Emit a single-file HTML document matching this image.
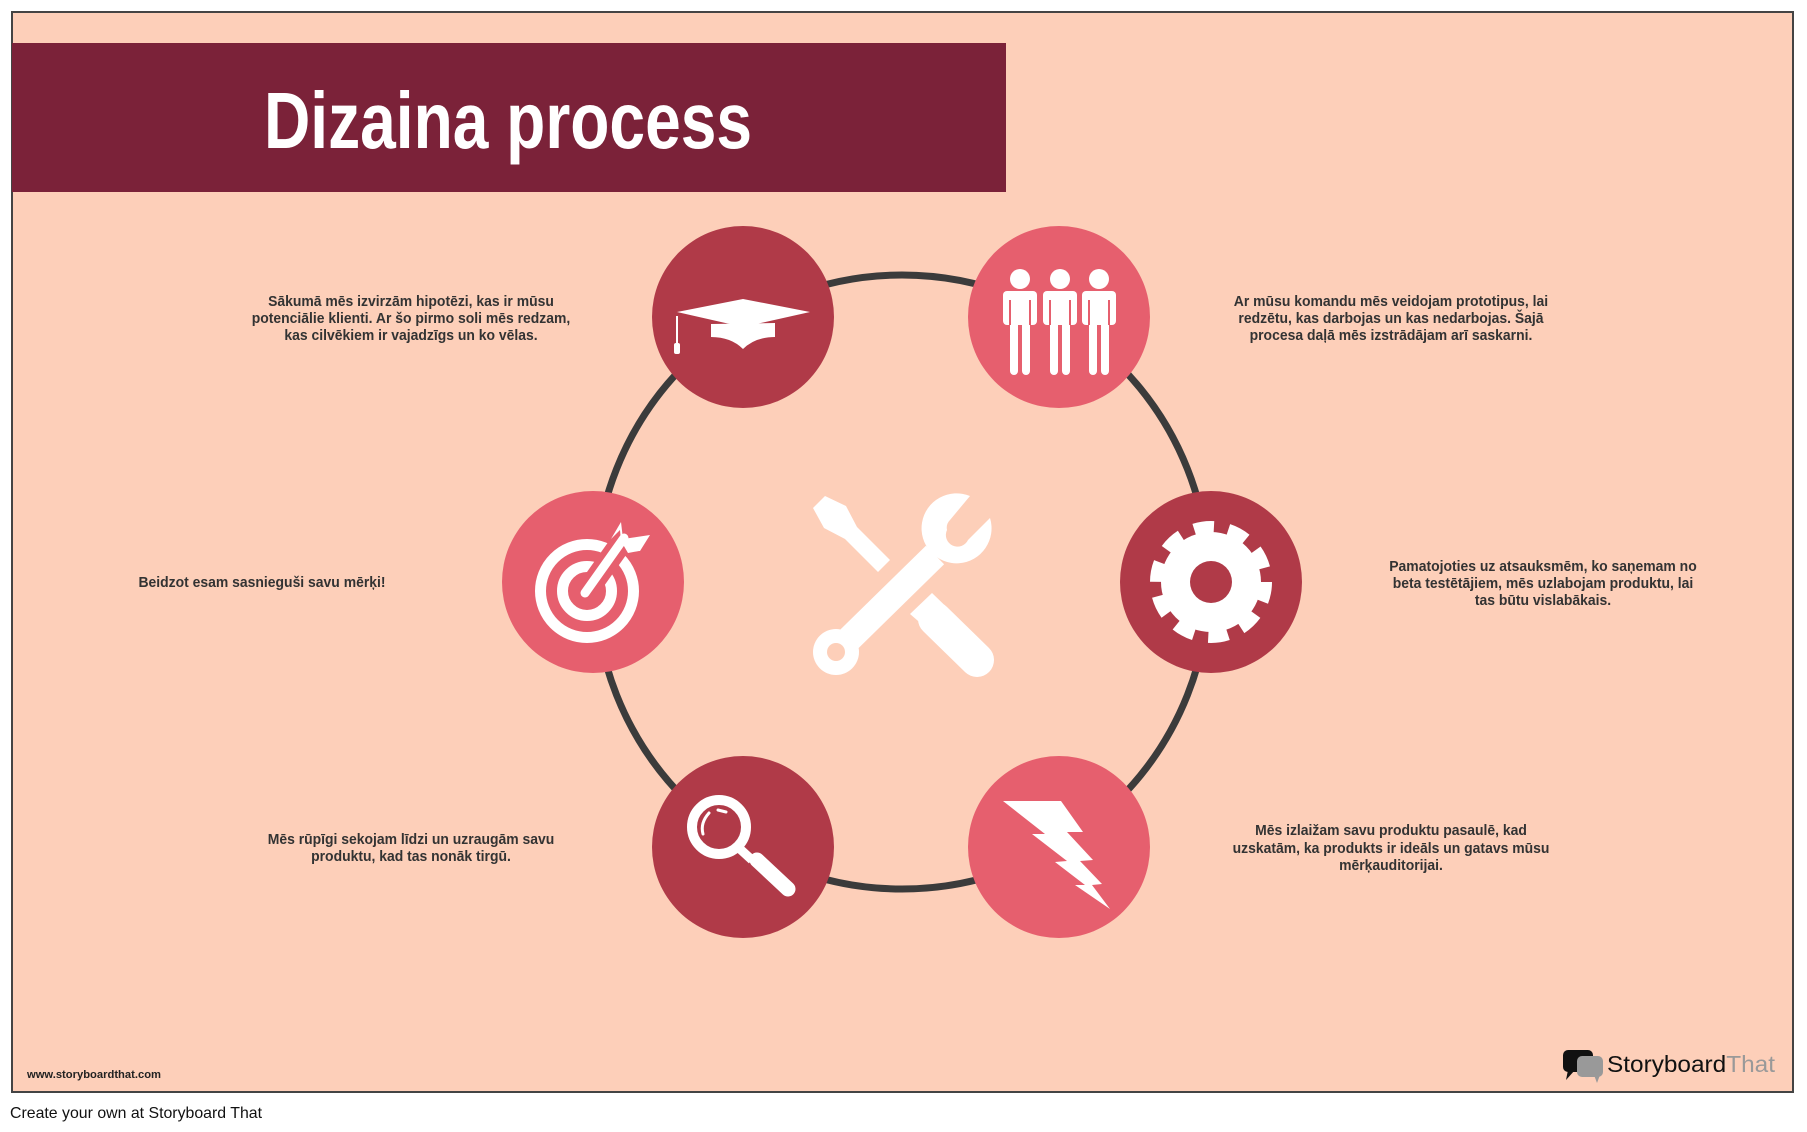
<!DOCTYPE html>
<html><head><meta charset="utf-8"><style>
html,body{margin:0;padding:0;background:#fff;}
svg{display:block;}
.t{font-family:"Liberation Sans Narrow","Liberation Sans",sans-serif;font-weight:bold;font-size:15px;fill:#333;text-anchor:middle;}
</style></head><body>
<svg width="1807" height="1132" viewBox="0 0 1807 1132" xmlns="http://www.w3.org/2000/svg">
<rect x="12" y="12" width="1781" height="1080" fill="#fdcfb9" stroke="#444" stroke-width="2"/>
<rect x="12" y="43" width="994" height="149" fill="#7b2239"/>
<text x="508" y="148" font-family="Liberation Sans Narrow, Liberation Sans, sans-serif" font-weight="bold" font-size="80" fill="#fff" text-anchor="middle" textLength="488" lengthAdjust="spacingAndGlyphs">Dizaina process</text>

<circle cx="902" cy="582" r="307" fill="none" stroke="#3b3b3b" stroke-width="7"/>

<circle cx="743" cy="317" r="91" fill="#b03a48"/>
<circle cx="1059" cy="317" r="91" fill="#e65f6e"/>
<circle cx="593" cy="582" r="91" fill="#e65f6e"/>
<circle cx="1211" cy="582" r="91" fill="#b03a48"/>
<circle cx="743" cy="847" r="91" fill="#b03a48"/>
<circle cx="1059" cy="847" r="91" fill="#e65f6e"/>

<!-- grad cap -->
<g fill="#fff">
<polygon points="743,299 810,312 743,327 677,312"/>
<path d="M711,324 L775,323 L775,337 Q755,337 743,349 Q731,337 711,337 Z"/>
<rect x="676" y="316" width="2" height="28"/>
<rect x="674" y="343" width="6" height="11" rx="2"/>
</g>
<!-- people -->
<g fill="#fff">
<g id="p"><circle cx="1020" cy="279" r="10"/><rect x="1003" y="291" width="34" height="34" rx="4"/><rect x="1010" y="300" width="8" height="75" rx="4"/><rect x="1022" y="300" width="8" height="75" rx="4"/></g>
<use href="#p" x="40"/><use href="#p" x="79"/>
</g>
<g stroke="#e65f6e" stroke-width="2"><line x1="1010" y1="300" x2="1010" y2="325"/><line x1="1030" y1="300" x2="1030" y2="325"/><line x1="1050" y1="300" x2="1050" y2="325"/><line x1="1070" y1="300" x2="1070" y2="325"/><line x1="1089" y1="300" x2="1089" y2="325"/><line x1="1109" y1="300" x2="1109" y2="325"/></g>

<!-- target -->
<g fill="none" stroke="#fff">
<circle cx="587" cy="591" r="46.5" stroke-width="11"/>
<circle cx="587" cy="591" r="24.5" stroke-width="11"/>
</g>
<line x1="587" y1="591" x2="626" y2="536" stroke="#e65f6e" stroke-width="22"/>
<line x1="585" y1="593" x2="624" y2="538" stroke="#fff" stroke-width="9" stroke-linecap="round"/>
<polygon points="620,530 621,541 628,553 639,551 640,551 650,535 623,539 621,522 611,539" fill="#fff"/>

<!-- gear -->
<circle cx="1211" cy="582" r="55" fill="none" stroke="#fff" stroke-width="12" stroke-dasharray="20 14.56"/>
<circle cx="1211" cy="582" r="50" fill="#fff"/>
<circle cx="1211" cy="582" r="21" fill="#b03a48"/>

<!-- magnifier -->
<circle cx="719" cy="827" r="27" fill="none" stroke="#fff" stroke-width="10"/>
<path d="M703,834 Q700,823 709,813" stroke="#fff" stroke-width="3" fill="none" stroke-linecap="round"/>
<path d="M718,810 L726,812" stroke="#fff" stroke-width="3" stroke-linecap="round"/>
<line x1="740" y1="849" x2="752" y2="860" stroke="#fff" stroke-width="9"/>
<line x1="757" y1="860" x2="788" y2="889" stroke="#fff" stroke-width="15" stroke-linecap="round"/>

<!-- lightning -->
<polygon fill="#fff" points="1003,801 1061,801 1083,832 1067,832 1093,860 1080,861 1102,884 1092,885 1110,909 1075,885 1085,885 1055,862 1067,861 1032,834 1045,834"/>

<!-- tools -->
<g fill="#fff">
<polygon points="813,508 825,496 846,506 857,527 890,560 878,572 845,539 824,528"/>
<line x1="935" y1="619" x2="977" y2="660" stroke="#fff" stroke-width="34" stroke-linecap="round"/>
<polygon points="910,614 932,593 960,620 940,640"/>
<line x1="836" y1="652" x2="935" y2="555" stroke="#fff" stroke-width="26"/>
<circle cx="836" cy="652" r="23"/>
<path d="M970,496 A35,35 0 1 0 990,518 L968,540 A11,11 0 0 1 947,530 A11,11 0 0 1 950,520 Z"/>
</g>
<circle cx="836" cy="652" r="9" fill="#fdcfb9"/>

<!-- texts -->
<g transform="translate(411,0) scale(0.93,1) translate(-411,0)"><text class="t"><tspan x="411" y="306">Sākumā mēs izvirzām hipotēzi, kas ir mūsu</tspan><tspan x="411" y="323">potenciālie klienti. Ar šo pirmo soli mēs redzam,</tspan><tspan x="411" y="340">kas cilvēkiem ir vajadzīgs un ko vēlas.</tspan></text></g>
<g transform="translate(1391,0) scale(0.93,1) translate(-1391,0)"><text class="t"><tspan x="1391" y="306">Ar mūsu komandu mēs veidojam prototipus, lai</tspan><tspan x="1391" y="323">redzētu, kas darbojas un kas nedarbojas. Šajā</tspan><tspan x="1391" y="340">procesa daļā mēs izstrādājam arī saskarni.</tspan></text></g>
<g transform="translate(262,0) scale(0.93,1) translate(-262,0)"><text class="t" x="262" y="587">Beidzot esam sasnieguši savu mērķi!</text></g>
<g transform="translate(1543,0) scale(0.93,1) translate(-1543,0)"><text class="t"><tspan x="1543" y="571">Pamatojoties uz atsauksmēm, ko saņemam no</tspan><tspan x="1543" y="588">beta testētājiem, mēs uzlabojam produktu, lai</tspan><tspan x="1543" y="605">tas būtu vislabākais.</tspan></text></g>
<g transform="translate(411,0) scale(0.93,1) translate(-411,0)"><text class="t"><tspan x="411" y="844">Mēs rūpīgi sekojam līdzi un uzraugām savu</tspan><tspan x="411" y="861">produktu, kad tas nonāk tirgū.</tspan></text></g>
<g transform="translate(1391,0) scale(0.93,1) translate(-1391,0)"><text class="t"><tspan x="1391" y="835">Mēs izlaižam savu produktu pasaulē, kad</tspan><tspan x="1391" y="853">uzskatām, ka produkts ir ideāls un gatavs mūsu</tspan><tspan x="1391" y="870">mērķauditorijai.</tspan></text></g>

<text x="27" y="1078" font-family="Liberation Sans Narrow, Liberation Sans, sans-serif" font-weight="bold" font-size="11" fill="#222" textLength="134" lengthAdjust="spacingAndGlyphs">www.storyboardthat.com</text>

<!-- logo -->
<rect x="1563" y="1050" width="30" height="22" rx="5" fill="#111"/>
<polygon points="1568,1070 1566,1080 1575,1070" fill="#111"/>
<rect x="1577" y="1056" width="26" height="21" rx="5" fill="#999"/>
<polygon points="1594,1075 1597,1083 1600,1075" fill="#999"/>
<text x="1607" y="1072" font-family="Liberation Sans, sans-serif" font-size="23" fill="#111" textLength="168" lengthAdjust="spacingAndGlyphs">Storyboard<tspan fill="#999">That</tspan></text>

<text x="10" y="1118" font-family="Liberation Sans Narrow, Liberation Sans, sans-serif" font-size="16" fill="#111" textLength="252" lengthAdjust="spacingAndGlyphs">Create your own at Storyboard That</text>
</svg>
</body></html>
